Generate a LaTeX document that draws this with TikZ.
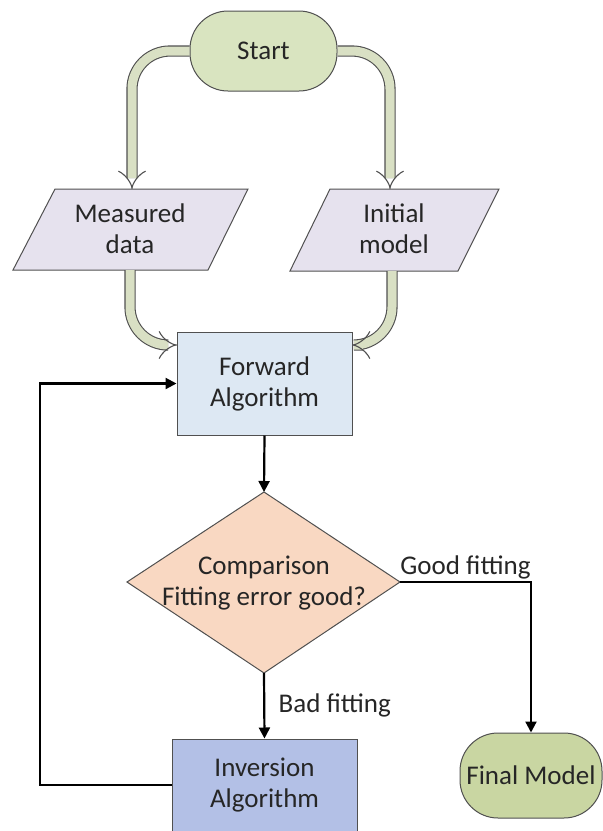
\documentclass[tikz,border=0pt]{standalone}
\usepackage{fontspec}
\setmainfont{Carlito}
\usetikzlibrary{arrows.meta,shapes.misc}
\definecolor{termc}{HTML}{D9E4C0}
\definecolor{finalc}{HTML}{C9D6A2}
\definecolor{iodata}{HTML}{E6E2EE}
\definecolor{fwdc}{HTML}{DDE8F3}
\definecolor{decc}{HTML}{F9D8C2}
\definecolor{invc}{HTML}{B3C0E6}
\definecolor{pipec}{HTML}{D9E0C4}
\definecolor{edgec}{HTML}{505050}
\definecolor{txtc}{HTML}{262626}
\begin{document}
\begin{tikzpicture}[x=1pt,y=-1pt, font=\fontsize{27}{31}\selectfont, text=txtc,
  box/.style={draw=edgec, line width=1pt, align=center},
  term/.style={box, rounded corners=38pt, inner sep=0pt},
  flow/.style={line width=2.2pt, -{Triangle[length=11pt,width=11pt]}},
  pipe/.style={draw=edgec, line width=1.1pt, double=pipec, double distance=9pt, rounded corners=38pt, -{Implies}}]
\useasboundingbox (0,0) rectangle (603,831);
% Start
\node[term, fill=termc, minimum width=147pt, minimum height=80pt] (st) at (263.5,51) {Start};
% Measured data
\draw[box, fill=iodata] (13,270)--(55,189)--(248,189)--(208,270)--cycle;
\node[align=center] (md) at (130,229) {Measured\\data};
\coordinate (mdT) at (132,189);
\coordinate (mdB) at (130,270);
% Initial model
\draw[box, fill=iodata] (290,271)--(330,189)--(499,189)--(458,271)--cycle;
\node[align=center] (im) at (394,229) {Initial\\model};
\coordinate (imT) at (390,189);
\coordinate (imB) at (392,271);
% Forward
\node[box, fill=fwdc, minimum width=175pt, minimum height=103pt] (fw) at (264.5,383.5) {Forward\\Algorithm};
\coordinate (fwL) at (177,345);
\coordinate (fwR) at (352,345);
% pipes
\draw[pipe] (st.west) -| (mdT);
\draw[pipe] (st.east) -| (imT);
\draw[pipe] (mdB) |- (fwL);
\draw[pipe] (imB) |- (fwR);
% Decision
\draw[box, fill=decc] (264,492)--(400,582)--(264,673)--(127,582)--cycle;
\node[align=center] (cmp) at (264,583) {Comparison\\Fitting error good?};
\coordinate (cmpN) at (264,492);
\coordinate (cmpE) at (400,582);
\coordinate (cmpS) at (264,673);
% Inversion
\node[box, fill=invc, minimum width=185pt, minimum height=92pt] (inv) at (264.5,785) {Inversion\\Algorithm};
% Final
\node[term, fill=finalc, minimum width=142pt, minimum height=85pt] (fin) at (531,775.5) {Final Model};
% flows
\draw[flow] (fw.south) -- (cmpN);
\draw[flow] (cmpE) -| (fin.north) node[pos=0.25, above, inner sep=2pt] {Good fitting};
\draw[flow] (cmpS) -- (inv.north) node[midway, right=10pt] {Bad fitting};
\draw[flow] (inv.west) -- ++(-131.5,0) |- (fw.west);
\end{tikzpicture}
\end{document}
